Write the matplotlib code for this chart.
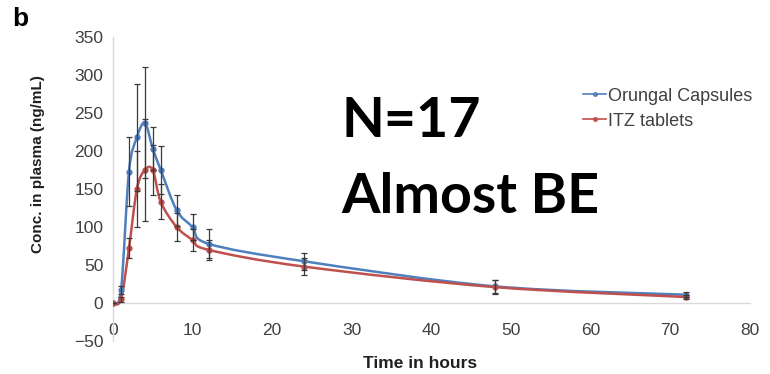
import numpy as np
import matplotlib
matplotlib.use('Agg')
import matplotlib.pyplot as plt
from matplotlib.path import Path
from matplotlib.patches import PathPatch
from matplotlib.lines import Line2D

# sampling times (h) and mean plasma concentrations (ng/mL)
hours = [0, 1, 2, 3, 4, 5, 6, 8, 10, 12, 24, 48, 72]
orungal = [0, 17, 173, 218, 237, 203, 175, 122, 100, 78, 55, 22, 11]
orungal_sd = [0, 5, 45, 70, 73, 28, 31, 20, 17, 19, 11, 9, 3]
itz = [0, 5, 72, 150, 175, 175, 133, 100, 83, 70, 48, 21, 8]
itz_sd = [0, 3, 13, 50, 67, 33, 23, 18, 15, 13, 11, 9, 3]

blue = '#4f7fbc'
red = '#c0504d'
txt = '#404040'


def smooth_path(x, y):
    # catmull-rom style bezier segments, like a spreadsheet "smoothed line"
    x = np.asarray(x, float)
    y = np.asarray(y, float)
    n = len(x)
    verts = [(x[0], y[0])]
    codes = [Path.MOVETO]
    for i in range(n - 1):
        p0 = (x[max(i - 1, 0)], y[max(i - 1, 0)])
        p1 = (x[i], y[i])
        p2 = (x[i + 1], y[i + 1])
        p3 = (x[min(i + 2, n - 1)], y[min(i + 2, n - 1)])
        c1 = (p1[0] + (p2[0] - p0[0]) / 6, p1[1] + (p2[1] - p0[1]) / 6)
        c2 = (p2[0] - (p3[0] - p1[0]) / 6, p2[1] - (p3[1] - p1[1]) / 6)
        verts += [c1, c2, p2]
        codes += [Path.CURVE4] * 3
    return Path(verts, codes)


fig = plt.figure(figsize=(7.7, 3.74), dpi=100)
ax = fig.add_axes([0.1468, 0.088, 0.827, 0.813])

for yv, sd, col in [(orungal, orungal_sd, blue), (itz, itz_sd, red)]:
    ax.add_patch(PathPatch(smooth_path(hours, yv), fill=False, edgecolor=col, lw=1.8, zorder=3))
    ax.plot(hours, yv, 'o', ms=3.5, color=col, zorder=4)
    ax.errorbar(hours, yv, yerr=sd, fmt='none', ecolor='#3a3a3a', elinewidth=0.9,
                capsize=2.5, capthick=0.9, zorder=5)

ax.set_xlim(0, 80)
ax.set_ylim(-50, 350)
ax.set_xticks(range(0, 81, 10))
ax.set_yticks(range(-50, 351, 50))

for s in ['top', 'right']:
    ax.spines[s].set_visible(False)
ax.spines['left'].set_color('#d9d9d9')
ax.spines['bottom'].set_color('#d9d9d9')
ax.spines['bottom'].set_position(('data', 0))
ax.spines['left'].set_linewidth(1.0)
ax.spines['bottom'].set_linewidth(1.0)
ax.tick_params(axis='both', length=0, labelsize=12.5, labelcolor=txt)
ax.tick_params(axis='x', pad=14)
ax.tick_params(axis='y', pad=7)
for lab in ax.get_xticklabels() + ax.get_yticklabels():
    lab.set_fontfamily('Liberation Sans')

fig.text(0.049, 0.56, 'Conc. in plasma (ng/mL)', fontsize=11, fontweight='bold',
         family='Liberation Sans', color='#202020', rotation=90,
         ha='center', va='center')
fig.text(0.545, 0.029, 'Time in hours', fontsize=12.5, fontweight='bold',
         family='Liberation Sans', color='#202020', ha='center', va='center')

handles = [Line2D([], [], color=blue, lw=1.2, marker='o', ms=2.5),
           Line2D([], [], color=red, lw=1.2, marker='o', ms=2.5)]
fig.legend(handles, ['Orungal Capsules', 'ITZ tablets'], loc='upper left',
           bbox_to_anchor=(0.746, 0.79), frameon=False, handlelength=1.25,
           handletextpad=0.12, labelspacing=0.45, borderpad=0,
           prop={'family': 'Liberation Sans', 'size': 13}, labelcolor=txt)

# big annotation, one line at a time on fixed baselines
fig.text(0.443, 0.634, 'N=17', fontsize=40, fontweight='bold',
         family='Lato', color='black', ha='left', va='baseline')
fig.text(0.443, 0.430, 'Almost BE', fontsize=40, fontweight='bold',
         family='Lato', color='black', ha='left', va='baseline')

fig.text(0.016, 0.95, 'b', fontsize=19, fontweight='bold', family='Liberation Sans',
         ha='left', va='center')

fig.savefig('out.png', dpi=100, facecolor='white')
